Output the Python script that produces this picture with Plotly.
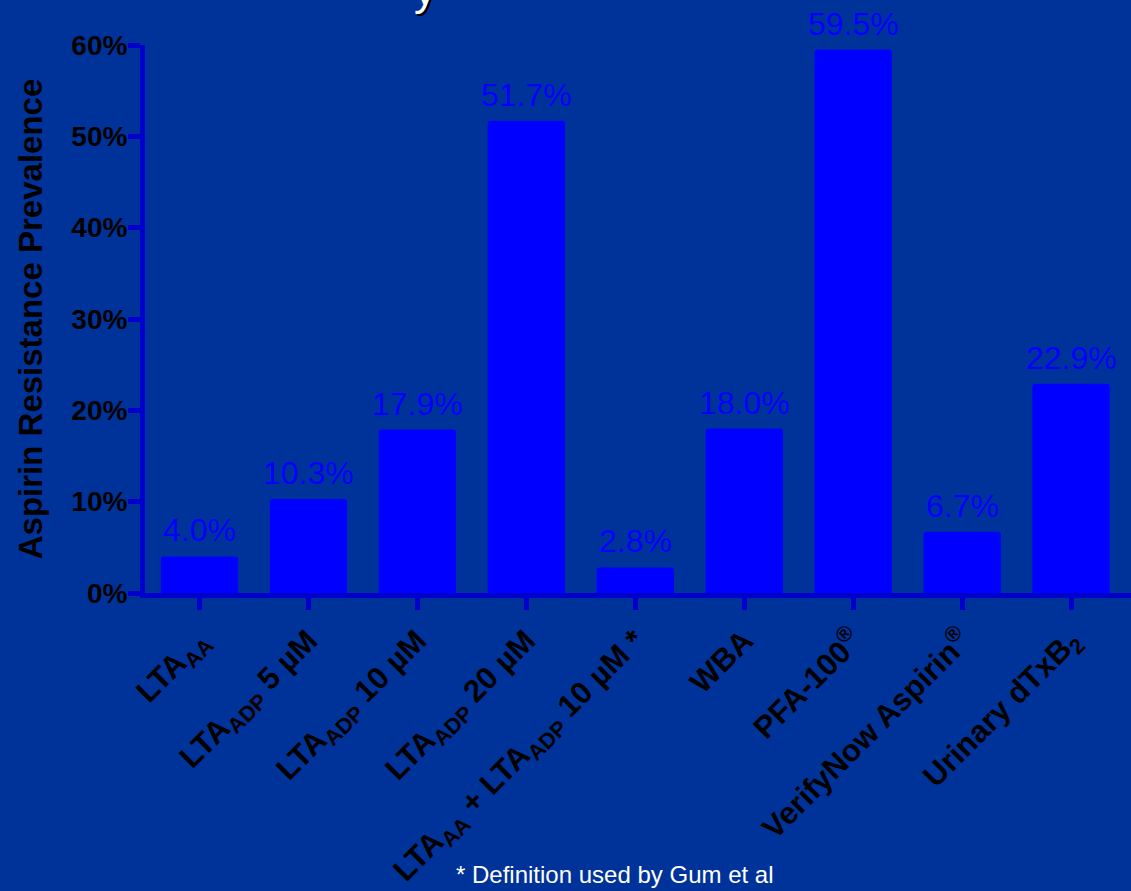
import plotly.graph_objects as go

# Assay categories (rich-text labels) and prevalence of aspirin resistance (%)
assays = [
    "LTA<sub>AA</sub>",
    "LTA<sub>ADP</sub> 5 µM",
    "LTA<sub>ADP</sub> 10 µM",
    "LTA<sub>ADP</sub> 20 µM",
    "LTA<sub>AA</sub> + LTA<sub>ADP</sub> 10 µM *",
    "WBA",
    "PFA-100<sup>®</sup>",
    "VerifyNow Aspirin<sup>®</sup>",
    "Urinary dTxB<sub>2</sub>",
]
prevalence = [4.0, 10.3, 17.9, 51.7, 2.8, 18.0, 59.5, 6.7, 22.9]

y_ticks = [0, 10, 20, 30, 40, 50, 60]
y_tick_labels = ["0%", "10%", "20%", "30%", "40%", "50%", "60%"]

BG = "#003399"
AXIS = "#0000cc"
BAR = "#0000ff"
FONT = "Liberation Sans, Arial, sans-serif"

positions = list(range(len(assays)))

fig = go.Figure(
    go.Bar(
        x=positions,
        y=prevalence,
        width=0.71,
        marker=dict(color=BAR, line=dict(width=0), cornerradius=3),
        hoverinfo="skip",
    )
)

# Value labels sitting a little above each bar
for xi, v in zip(positions, prevalence):
    fig.add_annotation(
        x=xi, y=v, xref="x", yref="y",
        text=f"{v:.1f}%",
        xanchor="center", yanchor="bottom",
        yshift=6,
        showarrow=False,
        font=dict(family=FONT, size=32, color=BAR),
    )

fig.update_layout(
    width=1131,
    height=891,
    margin=dict(l=145, r=0, t=45, b=296),
    paper_bgcolor=BG,
    plot_bgcolor=BG,
    showlegend=False,
    font=dict(family=FONT, color="black"),
)

fig.update_xaxes(
    range=[-0.5, 8.55],
    tickmode="array",
    tickvals=positions,
    ticktext=assays,
    tickangle=-45,
    tickfont=dict(family=FONT, size=31, color="black", weight="bold"),
    showline=True,
    linecolor=AXIS,
    linewidth=5,
    ticks="outside",
    ticklen=12,
    tickwidth=5,
    tickcolor=AXIS,
    showgrid=False,
    zeroline=False,
)

fig.update_yaxes(
    range=[0, 60],
    tickmode="array",
    tickvals=y_ticks,
    ticktext=y_tick_labels,
    tickfont=dict(family=FONT, size=28, color="black", weight="bold"),
    ticklabelstandoff=-5,
    showline=True,
    linecolor=AXIS,
    linewidth=5,
    ticks="outside",
    ticklen=12,
    tickwidth=5,
    tickcolor=AXIS,
    showgrid=False,
    zeroline=False,
    title=dict(
        text="Aspirin Resistance Prevalence",
        font=dict(family=FONT, size=33, color="black", weight="bold"),
        standoff=20,
    ),
)

# Footnote
fig.add_annotation(
    text="* Definition used by Gum et al",
    xref="paper", yref="paper",
    x=(615 - 145) / 986, y=-(878 - 595) / 550,
    xanchor="center", yanchor="middle",
    showarrow=False,
    font=dict(family=FONT, size=24, color="white"),
)

# Descender of the slide heading peeking in at the top edge
fig.add_annotation(
    text="y",
    xref="paper", yref="paper",
    x=(425 - 145) / 986, y=1 + (45 - 16) / 550,
    xanchor="center", yanchor="bottom",
    showarrow=False,
    font=dict(family=FONT, size=44, color="white", shadow="2px 2px 0px black"),
)

fig.write_html("out.html")
